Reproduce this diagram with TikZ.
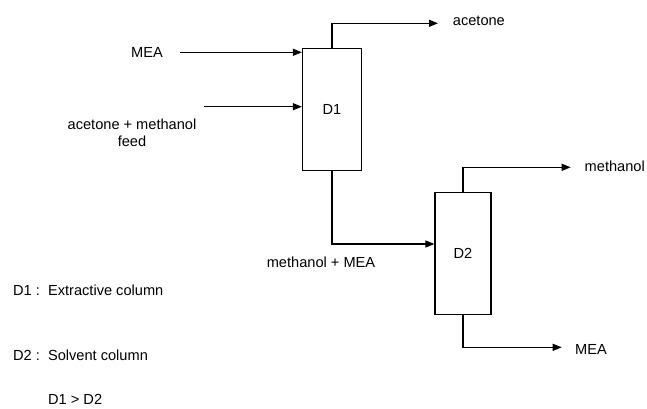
\documentclass[tikz,border=0pt]{standalone}
\usepackage{fontspec}
\setmainfont{Liberation Sans}
\usetikzlibrary{arrows.meta}
\begin{document}
\begin{tikzpicture}[x=1pt,y=-1pt,
  col/.style={draw,line width=1.2pt,minimum width=59pt,minimum height=122pt,inner sep=0pt,font=\fontsize{14.6}{17}\selectfont},
  lbl/.style={inner sep=0pt,font=\fontsize{14.6}{17}\selectfont},
  flow/.style={line width=1.2pt,-{Triangle[length=9pt,width=7pt]}}]
\useasboundingbox (0,0) rectangle (647,409);
% columns
\node[col] (D1) at (332,109.5) {D1};
\node[col,minimum width=56pt] (D2) at (463,253.7) {D2};
% labels
\node[lbl] (lmea) at (147,52) {MEA};
\node[lbl,align=center] (lfeed) at (132,132.5) {acetone + methanol\\feed};
\node[lbl,anchor=west] (lacet) at (452.7,21) {acetone};
\node[lbl] (lmm) at (321,262) {methanol + MEA};
\node[lbl,anchor=east] (lmeth) at (645,166) {methanol};
\node[lbl,anchor=west] (lmea2) at (575,349) {MEA};
\node[lbl,anchor=west] (leg1) at (13,290) {D1 :\ \ Extractive column};
\node[lbl,anchor=west] (leg2) at (13,355) {D2 :\ \ Solvent column};
\node[lbl,anchor=west] (leg3) at (48,399) {D1 > D2};
% free ends
\coordinate (mein) at (180,52.3);
\coordinate (feedin) at (204,106.7);
\coordinate (acout) at (438,23.3);
\coordinate (methout) at (570.7,167.3);
\coordinate (meaout) at (561.7,347.3);
% connectors
\draw[flow] (mein) -- (mein -| D1.west);
\draw[flow] (feedin) -- (feedin -| D1.west);
\draw[flow] (D1.north) |- (acout);
\draw[flow] (D1.south) |- ([yshift=9.7pt]D2.west);
\draw[flow] (D2.north) |- (methout);
\draw[flow] (D2.south) |- (meaout);
\end{tikzpicture}
\end{document}
